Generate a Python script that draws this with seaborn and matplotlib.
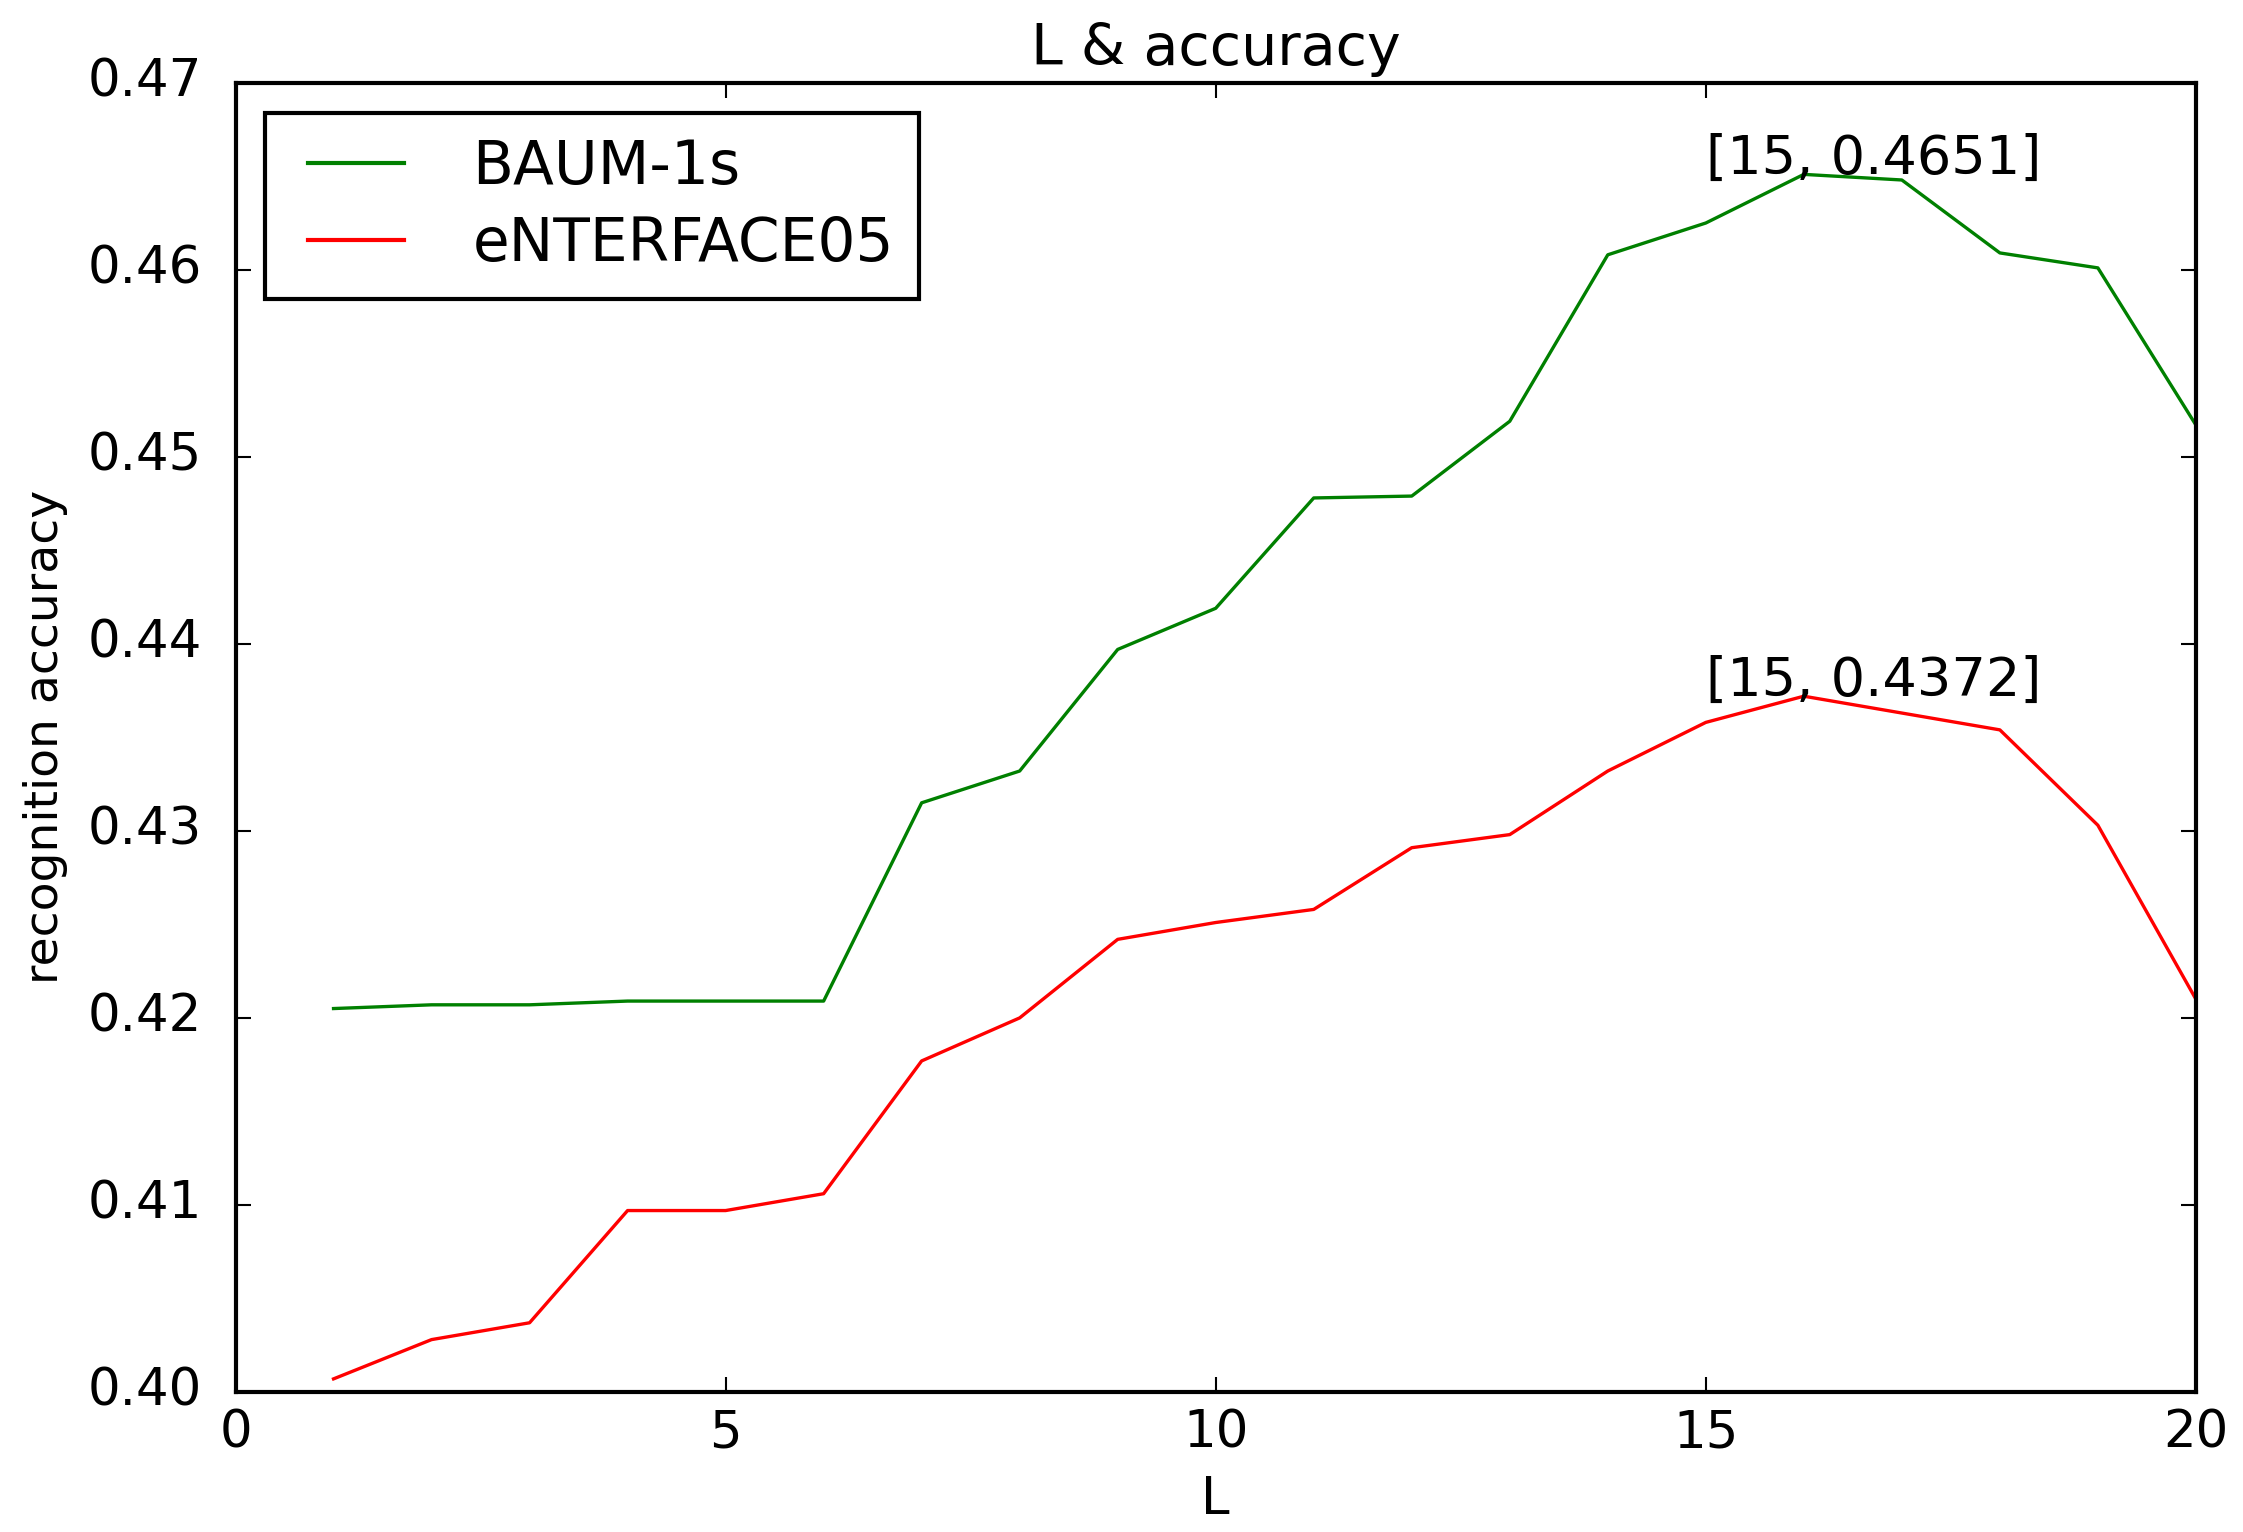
import matplotlib
matplotlib.use("Agg")
import matplotlib.pyplot as plt
import seaborn as sns
import pandas as pd

L_values = list(range(1, 21))
baum = [0.4205, 0.4207, 0.4207, 0.4209, 0.4209, 0.4209, 0.4315, 0.4332, 0.4397, 0.4419,
        0.4478, 0.4479, 0.4519, 0.4608, 0.4625, 0.4651, 0.4648, 0.4609, 0.4601, 0.4517]
enterface = [0.4007, 0.4028, 0.4037, 0.4097, 0.4097, 0.4106, 0.4177, 0.4200, 0.4242, 0.4251,
             0.4258, 0.4291, 0.4298, 0.4332, 0.4358, 0.4372, 0.4363, 0.4354, 0.4303, 0.4210]
series_names = ["BAUM-1s", "eNTERFACE05"]
series_colors = ["green", "red"]
annotations = [(15, 0.4651, "[15, 0.4651]"), (15, 0.4372, "[15, 0.4372]")]
x_ticks = [0, 5, 10, 15, 20]
y_ticks = [0.40, 0.41, 0.42, 0.43, 0.44, 0.45, 0.46, 0.47]
y_tick_labels = ["0.40", "0.41", "0.42", "0.43", "0.44", "0.45", "0.46", "0.47"]

df = pd.DataFrame({
    "L": L_values * 2,
    "acc": baum + enterface,
    "dataset": [series_names[0]] * 20 + [series_names[1]] * 20,
})

plt.style.use("classic")
plt.rcParams["font.family"] = ["DejaVu Sans"]
plt.rcParams["font.size"] = 36

fig = plt.figure(figsize=(22.43, 15.32), dpi=100, facecolor="white")
ax = fig.add_axes([0.105, 0.0914, 0.874, 0.8546])

sns.lineplot(data=df, x="L", y="acc", hue="dataset", palette=series_colors,
             hue_order=series_names, linewidth=2.4, ax=ax, legend=True)

for x, y, t in annotations:
    ax.text(x, y, t, fontsize=39)

ax.set_xlim(0, 20)
ax.set_ylim(0.40, 0.47)
ax.set_xticks(x_ticks)
ax.set_yticks(y_ticks)
ax.set_yticklabels(y_tick_labels)
ax.tick_params(direction="in", length=11, width=1.5, labelsize=37,
               top=True, right=True)
ax.tick_params(axis="x", pad=12)
ax.tick_params(axis="y", pad=24)
for s in ax.spines.values():
    s.set_linewidth(3)
ax.set_xlabel("L", fontsize=37, labelpad=12)
ax.set_ylabel("recognition accuracy", fontsize=34, labelpad=14)
ax.set_title("L & accuracy", fontsize=41, pad=13)

leg = ax.legend(loc="upper left", fontsize=43, handlelength=2.2, handletextpad=0.85,
                borderaxespad=0.5, labelspacing=0.3, borderpad=0.42, fancybox=False)
leg.get_frame().set_linewidth(3)
leg.get_frame().set_edgecolor("black")
for h in leg.get_lines():
    h.set_linewidth(3)

fig.savefig("out.png", dpi=100, facecolor="white")
